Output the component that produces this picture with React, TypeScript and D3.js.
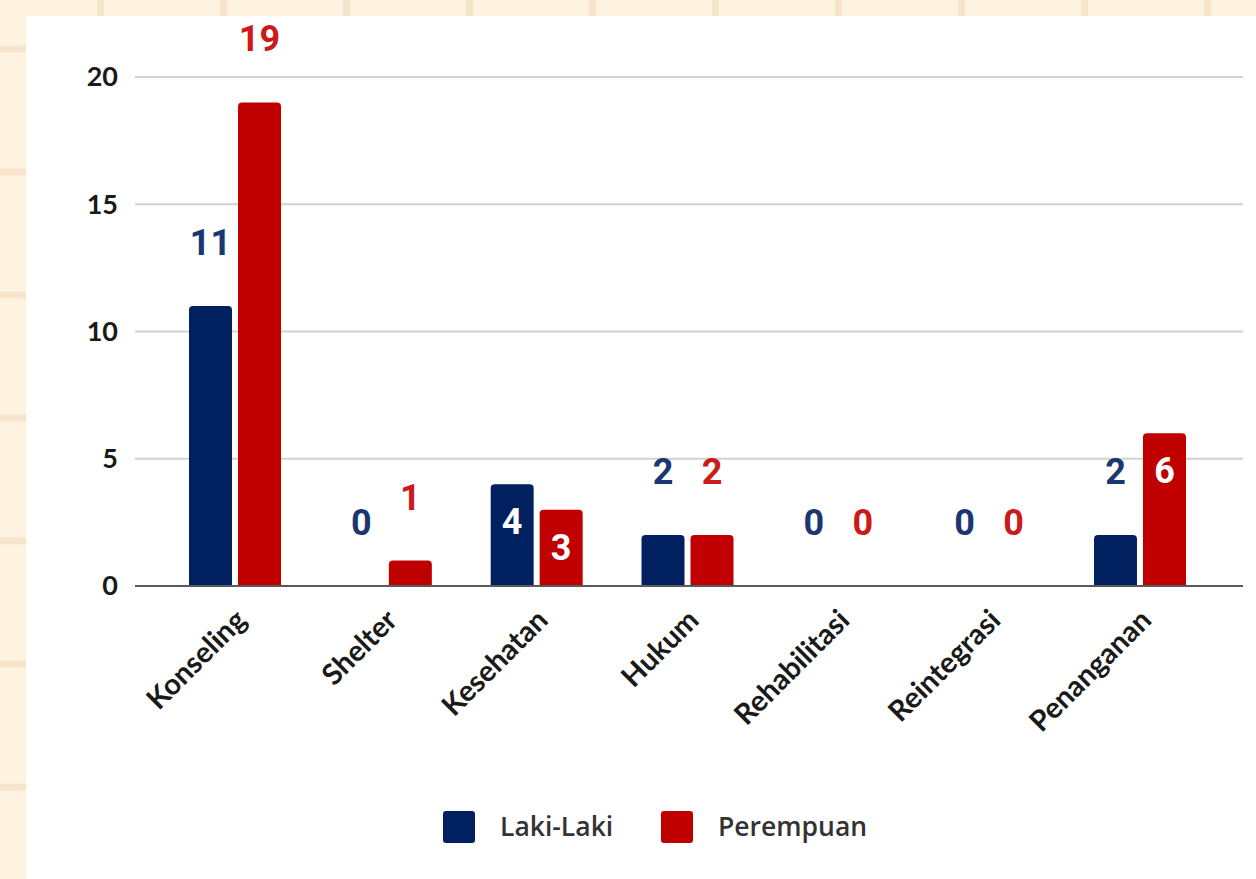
import React from "react";
import * as d3 from "d3";

const categories = ["Konseling", "Shelter", "Kesehatan", "Hukum", "Rehabilitasi", "Reintegrasi", "Penanganan"];
const seriesNames = ["Laki-Laki", "Perempuan"];
const lakiLaki = [11, 0, 4, 2, 0, 0, 2];
const perempuan = [19, 1, 3, 2, 0, 0, 6];
const yTicks = [0, 5, 10, 15, 20];
const insideLabels = ["Kesehatan|Laki-Laki", "Kesehatan|Perempuan", "Penanganan|Perempuan"];

const W = 1256;
const H = 879;
const colors: Record<string, string> = { "Laki-Laki": "#002060", "Perempuan": "#c00000" };
const labelColors: Record<string, string> = { "Laki-Laki": "#1b3772", "Perempuan": "#cc1a1a" };

function topRoundedRect(x: number, y: number, w: number, h: number, r: number) {
  if (h <= 0) return "";
  const rr = Math.min(r, h, w / 2);
  return `M${x},${y + h}V${y + rr}Q${x},${y} ${x + rr},${y}H${x + w - rr}Q${x + w},${y} ${x + w},${y + rr}V${y + h}Z`;
}

export default function App() {
  const y = d3.scaleLinear().domain([0, 20]).range([586, 77]);
  const x = d3.scaleBand<string>().domain(categories).range([159.6, 1215.4]).padding(0);
  const xs = d3.scaleBand<string>().domain(seriesNames).range([-46, 46]).paddingInner(0.1224);
  const gridX0 = 135;
  const gridX1 = 1243;

  const bgLinesX = d3.range(0, 11).map((i) => 100.5 + i * 123);
  const bgLinesY = d3.range(0, 8).map((i) => 49 + i * 123);

  const data = seriesNames.map((s, si) => ({
    name: s,
    values: si === 0 ? lakiLaki : perempuan,
  }));

  return (
    <svg width={W} height={H} style={{ position: "fixed", left: 0, top: 0 }} xmlns="http://www.w3.org/2000/svg">
      <rect x={0} y={0} width={W} height={H} fill="#fef3e0" />
      {bgLinesX.map((lx, i) => (
        <line key={"bx" + i} x1={lx} x2={lx} y1={0} y2={H} stroke="#f7e5cb" strokeWidth={7} />
      ))}
      {bgLinesY.map((ly, i) => (
        <line key={"by" + i} x1={0} x2={W} y1={ly} y2={ly} stroke="#f7e5cb" strokeWidth={7} />
      ))}
      <rect x={26} y={16} width={W - 26} height={H - 16} fill="#ffffff" />

      {yTicks.map((t) => (
        <g key={"t" + t}>
          {t !== 0 && (
            <line x1={gridX0} x2={gridX1} y1={y(t)} y2={y(t)} stroke="#d2d2d2" strokeWidth={2} />
          )}
          <text
            x={118}
            y={y(t)}
            dy="0.35em"
            textAnchor="end"
            fontFamily="Lato"
            fontWeight={700}
            fontSize={27}
            fill="#1a1a1a"
          >
            {t}
          </text>
        </g>
      ))}

      {data.map((s) =>
        categories.map((c, ci) => {
          const v = s.values[ci];
          const bx = (x(c) as number) + x.bandwidth() / 2 + (xs(s.name) as number);
          const bw = xs.bandwidth();
          const top = y(v);
          return (
            <path key={s.name + c} d={topRoundedRect(bx, top, bw, y(0) - top, 4)} fill={colors[s.name]} />
          );
        })
      )}

      <line x1={gridX0} x2={gridX1} y1={y(0)} y2={y(0)} stroke="#5a5a5a" strokeWidth={2} />

      {data.map((s) =>
        categories.map((c, ci) => {
          const v = s.values[ci];
          const cx = (x(c) as number) + x.bandwidth() / 2 + (xs(s.name) as number) + xs.bandwidth() / 2;
          const inside = insideLabels.includes(c + "|" + s.name);
          const ly = inside ? y(v) + 37 : y(v) - 64;
          return (
            <text
              key={"l" + s.name + c}
              x={cx}
              y={ly}
              dy="0.36em"
              textAnchor="middle"
              fontFamily="Roboto"
              fontWeight={700}
              fontSize={36}
              fill={inside ? "#ffffff" : labelColors[s.name]}
            >
              {v}
            </text>
          );
        })
      )}

      {categories.map((c) => {
        const cx = (x(c) as number) + x.bandwidth() / 2;
        const ax = cx + 13;
        const ay = 622;
        return (
          <text
            key={"c" + c}
            x={ax}
            y={ay}
            transform={`rotate(-45 ${ax} ${ay})`}
            textAnchor="end"
            fontFamily="Lato"
            fontWeight={700}
            fontSize={29}
            fill="#1a1a1a"
          >
            {c}
          </text>
        );
      })}

      {seriesNames.map((s, i) => {
        const lx = i === 0 ? 443 : 661;
        return (
          <g key={"lg" + s}>
            <rect x={lx} y={811} width={32} height={32} rx={3} fill={colors[s]} />
            <text
              x={lx + 57}
              y={827}
              dy="0.35em"
              fontFamily="Open Sans"
              fontWeight={600}
              fontSize={26.5}
              fill="#333333"
            >
              {s}
            </text>
          </g>
        );
      })}
    </svg>
  );
}
